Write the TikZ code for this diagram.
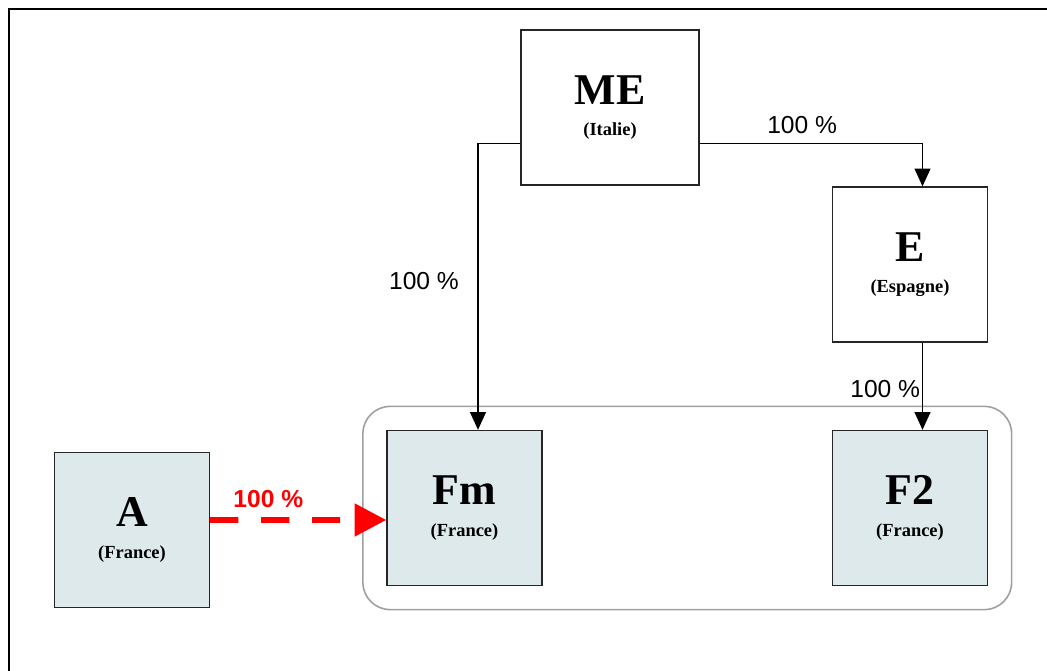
\documentclass[tikz,border=0pt]{standalone}
\usepackage{fontspec}
\setmainfont{Liberation Serif}
\newfontfamily\pctfont{Liberation Sans}
\usetikzlibrary{arrows.meta,positioning,calc,fit}
\definecolor{boxfill}{RGB}{221,233,235}
\newcommand{\entname}[2]{{\fontsize{25}{25}\selectfont #1}\\{#2}}

\begin{document}
\begin{tikzpicture}[x=0.02cm, y=-0.02cm,
  every node/.style={anchor=center},
  entity/.style={draw=black!85, line width=0.8pt, inner sep=0pt, align=center,
    font=\fontsize{10.5}{18}\selectfont\bfseries,
    minimum width=3.1cm, minimum height=3.1cm},
  entityF/.style={entity, fill=boxfill},
  link/.style={-{Triangle[width=9pt,length=10pt]}, line width=0.7pt},
  pct/.style={font=\pctfont\fontsize{14}{16}\selectfont, inner sep=2pt}
]
  \useasboundingbox (0,0) rectangle (1047,671);
  \draw[line width=1.1pt] (1047,9) -- (9,9) -- (9,671);

  % --- Societes ---
  \node (ME) [entity, minimum width=3.56cm] at (610,107.5) {\entname{ME}{(Italie)}};
  \node (E)  [entity] at (910,264.5) {\entname{E}{(Espagne)}};
  \node (Fm) [entityF] at (464.5,508) {\entname{Fm}{(France)}};
  \node (F2) [entityF] at (910,508) {\entname{F2}{(France)}};
  \node (A)  [entityF] at (132,530) {\entname{A}{(France)}};

  % groupe
  \node (grp) [draw=gray!75, line width=0.9pt, rounded corners=0.55cm,
    inner sep=0.47cm, fit=(Fm)(F2)] {};

  % --- Participations ---
  \draw[link] ([yshift=-0.72cm]ME.west) -| node[pct, pos=0.74, left=0.3cm] {100 \%}
    ([xshift=0.27cm]Fm.north);
  \draw[link] ([yshift=-0.72cm]ME.east) -| node[pct, pos=0.23, above=3pt] {100 \%}
    ([xshift=0.25cm]E.north);
  \draw[link] ([xshift=0.25cm]E.south) -- node[pct, pos=0.53, left=-1pt] {100 \%}
    ([xshift=0.25cm]F2.north);

  \draw[red, line width=3.4pt, dash pattern=on 16pt off 13pt,
    -{Triangle[width=18pt,length=18pt]}]
    ([yshift=0.2cm]A.east) -- node[pct, text=red, font=\pctfont\bfseries\fontsize{14}{16}\selectfont,
      pos=0.33, above=3pt] {100 \%} ([yshift=-0.24cm]Fm.west);
\end{tikzpicture}
\end{document}
